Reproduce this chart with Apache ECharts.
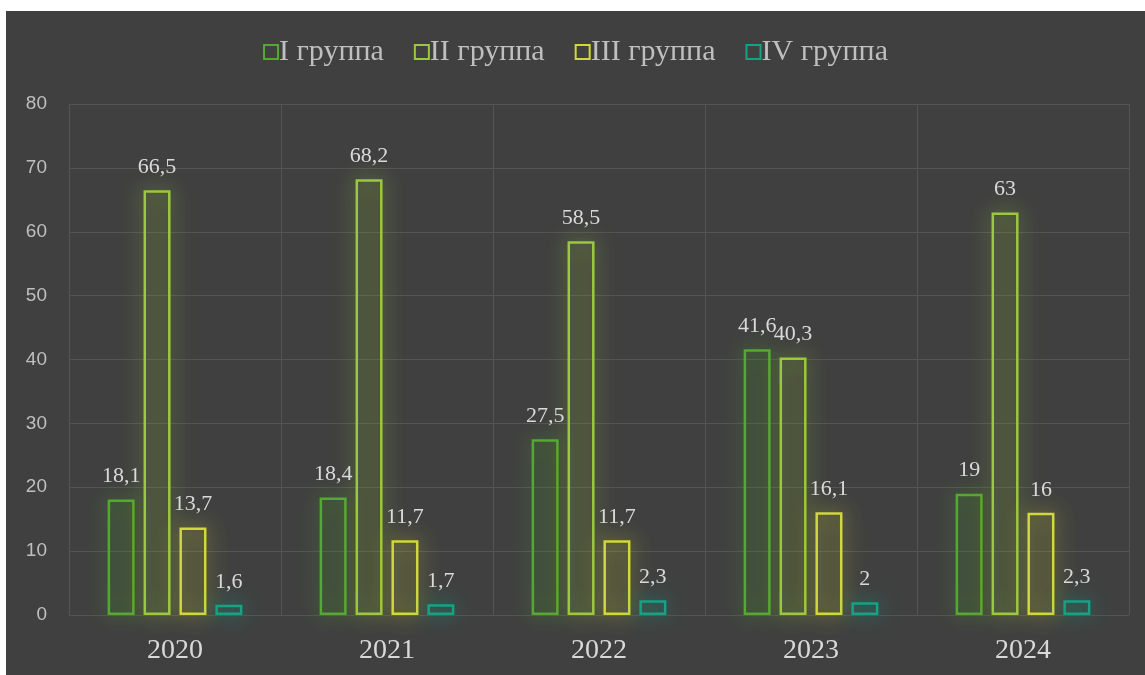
<!DOCTYPE html>
<html>
<head>
<meta charset="utf-8">
<title>Группы</title>
<script src="https://cdn.jsdelivr.net/npm/echarts@6/dist/echarts.min.js"></script>
<style>
html, body { margin: 0; padding: 0; background: #ffffff; }
#chart {
    position: absolute;
    left: 6px;
    top: 11px;
    width: 1139px;
    height: 664px;
    background: #404040;
}
</style>
</head>
<body>
<div id="chart"></div>
<script>
// данные
var years = ['2020', '2021', '2022', '2023', '2024'];
var group1 = [18.1, 18.4, 27.5, 41.6, 19];
var group2 = [66.5, 68.2, 58.5, 40.3, 63];
var group3 = [13.7, 11.7, 11.7, 16.1, 16];
var group4 = [1.6, 1.7, 2.3, 2, 2.3];
var groupNames = ['I группа', 'II группа', 'III группа', 'IV группа'];
var groupColors = ['#55a832', '#9cc83b', '#d0d83c', '#15a386'];
var groupFills = ['rgba(85,168,50,0.04)', 'rgba(156,200,59,0.04)', 'rgba(208,216,60,0.04)', 'rgba(21,163,134,0.04)'];

function makeSeries(i, data) {
    return {
        name: groupNames[i],
        type: 'bar',
        data: data,
        barWidth: 27,
        barGap: '33%',
        itemStyle: {
            color: groupFills[i],
            borderColor: groupColors[i],
            borderWidth: 2.5,
            shadowBlur: 20,
            shadowColor: groupColors[i]
        },
        label: {
            show: true,
            position: 'top',
            distance: 12,
            color: '#d9d9d9',
            fontFamily: 'Liberation Serif',
            fontSize: 22,
            formatter: function (p) { return String(p.value).replace('.', ','); }
        }
    };
}

var chart = echarts.init(document.getElementById('chart'));
chart.setOption({
    animation: false,
    legend: {
        top: 21,
        left: 'center',
        itemWidth: 14,
        itemHeight: 14,
        itemGap: 30,
        icon: 'rect',
        textStyle: {
            color: '#bfbfbf',
            fontFamily: 'Liberation Serif',
            fontSize: 30,
            padding: [0, 0, 0, -4]
        },
        data: groupNames.map(function (n, i) {
            return {
                name: n,
                itemStyle: { color: 'transparent', borderColor: groupColors[i], borderWidth: 2 }
            };
        })
    },
    grid: { left: 63, right: 16, top: 93, bottom: 60 },
    xAxis: {
        type: 'category',
        data: years,
        axisLine: { show: false },
        axisTick: { show: false },
        splitLine: { show: true, lineStyle: { color: '#545454', width: 1 } },
        axisLabel: {
            color: '#d9d9d9',
            fontFamily: 'Liberation Serif',
            fontSize: 28,
            margin: 22
        }
    },
    yAxis: {
        type: 'value',
        min: 0,
        max: 80,
        interval: 10,
        axisLine: { show: false },
        axisTick: { show: false },
        splitLine: { lineStyle: { color: '#545454', width: 1 } },
        axisLabel: {
            color: '#bfbfbf',
            fontFamily: 'Liberation Sans',
            fontSize: 19,
            margin: 22
        }
    },
    series: [
        makeSeries(0, group1),
        makeSeries(1, group2),
        makeSeries(2, group3),
        makeSeries(3, group4)
    ]
});
</script>
</body>
</html>
